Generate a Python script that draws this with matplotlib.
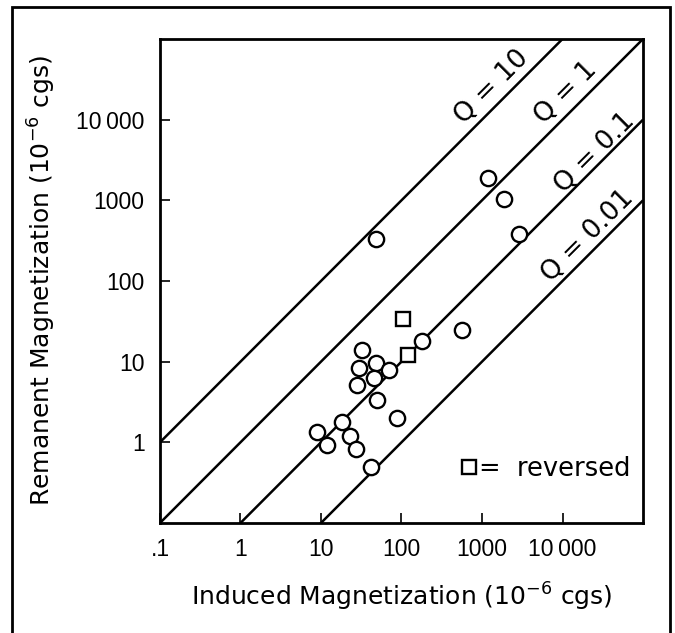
import matplotlib
matplotlib.use("Agg")
import matplotlib.pyplot as plt
from matplotlib.patches import Rectangle
from matplotlib.lines import Line2D

plt.rcParams['font.family'] = ['Liberation Sans', 'DejaVu Sans']
plt.rcParams['mathtext.default'] = 'regular'

# normal polarity samples (induced, remanent), 10^-6 cgs
induced = [48, 1200, 1850, 2900, 570, 180, 32, 48, 30, 70,
           45, 28, 50, 87, 18, 9, 23, 12, 27, 42]
remanent = [330, 1900, 1050, 380, 25, 18, 14, 9.7, 8.3, 7.9,
            6.2, 5.1, 3.3, 2.0, 1.8, 1.35, 1.2, 0.93, 0.83, 0.49]

# reversed samples
rev_induced = [105, 122]
rev_remanent = [34, 12]

# Koenigsberger ratio lines
q_values = [10, 1, 0.1, 0.01]
q_labels = ["Q = 10", "Q = 1", "Q = 0.1", "Q = 0.01"]

xticks = [0.1, 1, 10, 100, 1000, 10000]
xticklabels = [".1", "1", "10", "100", "1000", "10\u2009000"]
yticks = [1, 10, 100, 1000, 10000]
yticklabels = ["1", "10", "100", "1000", "10\u2009000"]

wide = ['DejaVu Sans']

fig = plt.figure(figsize=(6.75, 6.33), dpi=100)
ax = fig.add_axes([0.237, 0.1738, 0.7156, 0.7646])

xs = [0.1, 1e5]
for q in q_values:
    ax.plot(xs, [q * v for v in xs], color="black", lw=1.8, solid_capstyle="butt")

ax.plot(induced, remanent, "o", ms=11, mfc="white", mec="black", mew=1.7, ls="none", zorder=3)
ax.plot(rev_induced, rev_remanent, "s", ms=9.5, mfc="white", mec="black", mew=1.7, ls="none", zorder=3)

ax.set_xscale("log")
ax.set_yscale("log")
ax.set_xlim(0.1, 1e5)
ax.set_ylim(0.1, 1e5)
ax.set_xticks(xticks)
ax.set_xticklabels(xticklabels)
ax.set_yticks(yticks)
ax.set_yticklabels(yticklabels)
ax.minorticks_off()
ax.tick_params(direction="in", length=7, width=1.2, labelsize=16.5, pad=11)
for s in ax.spines.values():
    s.set_linewidth(2)

label_pos = [(1333, 10**4.4), (10**4.04, 10**4.33), (10**4.4, 10**3.58), (10**4.31, 10**2.56)]
for (lx, ly), txt in zip(label_pos, q_labels):
    ax.text(lx, ly, txt, rotation=45, rotation_mode="anchor", ha="center", va="center",
            fontsize=19, family=wide)

handle = Line2D([], [], marker="s", ms=9.5, mfc="white", mec="black", mew=1.7, ls="none")
ax.legend([handle], ["=  reversed"], loc="lower right", frameon=False,
          prop={'family': wide, 'size': 18.5},
          handlelength=0.7, handletextpad=0.05, borderpad=0, borderaxespad=0,
          bbox_to_anchor=(0.975, 0.085))

ax.set_xlabel("Induced Magnetization (10$^{-6}$ cgs)", fontsize=18, family=wide, labelpad=14)
ax.set_ylabel("Remanent Magnetization (10$^{-6}$ cgs)", fontsize=18, family=wide, labelpad=13)

fig.patches.append(Rectangle((12 / 675, -0.05), 658 / 675, 1.05 - 7 / 633, transform=fig.transFigure,
                             fill=False, lw=2, edgecolor="black"))

fig.savefig("out.png", dpi=100)
